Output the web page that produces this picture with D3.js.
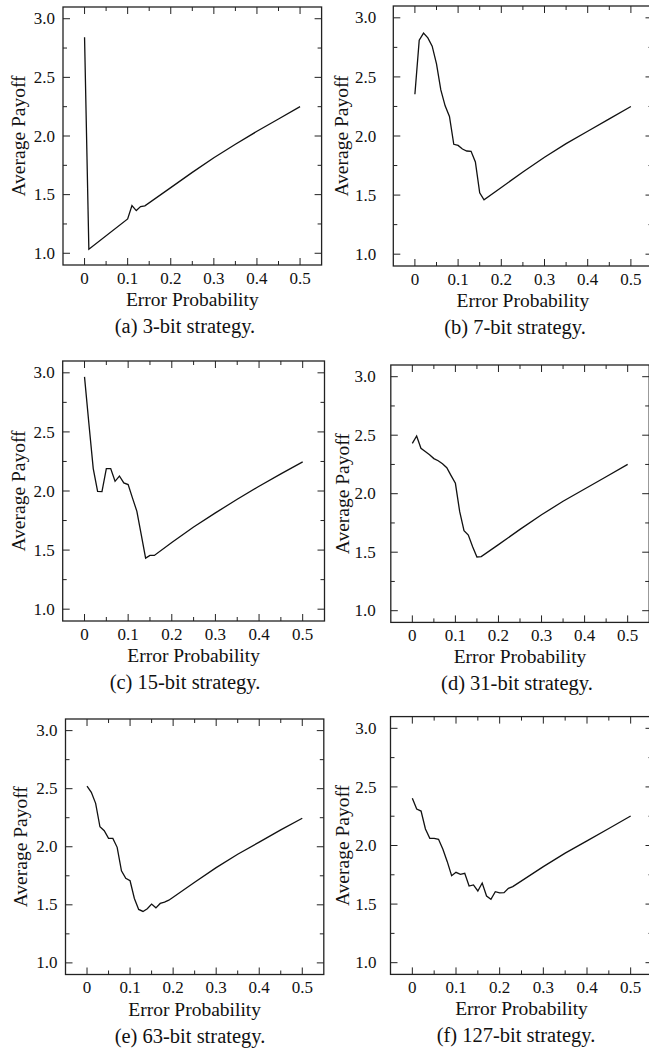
<!DOCTYPE html>
<head>
<meta charset="utf-8">
<script src="https://d3js.org/d3.v7.min.js"></script>
<style>
body { margin: 0; background: #fff; }
</style>
</head>
<body>
<svg id="fig"></svg>
<script>

// values: [error probability, average payoff]
var bit3 = [[0, 2.843], [0.01, 1.034], [0.1, 1.293], [0.11, 1.406], [0.12, 1.364], [0.13, 1.398], [0.14, 1.404],
    [0.2, 1.56], [0.25, 1.69], [0.3, 1.815], [0.35, 1.93], [0.4, 2.04], [0.45, 2.145], [0.5, 2.25]];
var bit7 = [[0, 2.353], [0.01, 2.81], [0.02, 2.87], [0.03, 2.83], [0.04, 2.76], [0.05, 2.61], [0.06, 2.39], [0.07, 2.255],
    [0.08, 2.165], [0.09, 1.93], [0.1, 1.92], [0.11, 1.89], [0.12, 1.873], [0.13, 1.87], [0.14, 1.78], [0.15, 1.52],
    [0.16, 1.46], [0.2, 1.565], [0.25, 1.695], [0.3, 1.82], [0.35, 1.935], [0.4, 2.04], [0.45, 2.145], [0.5, 2.25]];
var bit15 = [[0, 2.966], [0.01, 2.571], [0.02, 2.19], [0.03, 1.997], [0.04, 1.995], [0.05, 2.19], [0.06, 2.19], [0.07, 2.082],
    [0.08, 2.127], [0.09, 2.068], [0.1, 2.054], [0.11, 1.94], [0.12, 1.828], [0.13, 1.63], [0.14, 1.432], [0.15, 1.455],
    [0.16, 1.455], [0.2, 1.565], [0.25, 1.695], [0.3, 1.815], [0.35, 1.93], [0.4, 2.04], [0.45, 2.145], [0.5, 2.246]];
var bit31 = [[0, 2.43], [0.01, 2.493], [0.02, 2.388], [0.03, 2.36], [0.04, 2.333], [0.05, 2.30], [0.06, 2.282], [0.07, 2.256],
    [0.08, 2.222], [0.09, 2.154], [0.1, 2.089], [0.11, 1.846], [0.12, 1.684], [0.13, 1.647], [0.14, 1.547], [0.15, 1.459],
    [0.16, 1.462], [0.2, 1.565], [0.25, 1.695], [0.3, 1.82], [0.35, 1.935], [0.4, 2.04], [0.45, 2.145], [0.5, 2.251]];
var bit63 = [[0, 2.523], [0.01, 2.469], [0.02, 2.374], [0.03, 2.172], [0.04, 2.138], [0.05, 2.072], [0.06, 2.072], [0.07, 1.995],
    [0.08, 1.793], [0.09, 1.728], [0.1, 1.707], [0.11, 1.555], [0.12, 1.46], [0.13, 1.443], [0.14, 1.466], [0.15, 1.506],
    [0.16, 1.474], [0.17, 1.512], [0.18, 1.523], [0.19, 1.54], [0.2, 1.565], [0.25, 1.695], [0.3, 1.82], [0.35, 1.935],
    [0.4, 2.04], [0.45, 2.145], [0.5, 2.245]];
var bit127 = [[0, 2.403], [0.01, 2.311], [0.02, 2.294], [0.03, 2.141], [0.04, 2.061], [0.05, 2.061], [0.06, 2.053], [0.07, 1.968],
    [0.08, 1.862], [0.09, 1.742], [0.1, 1.771], [0.11, 1.754], [0.12, 1.763], [0.13, 1.654], [0.14, 1.663], [0.15, 1.612],
    [0.16, 1.68], [0.17, 1.569], [0.18, 1.541], [0.19, 1.606], [0.2, 1.595], [0.21, 1.597], [0.22, 1.635], [0.23, 1.649],
    [0.3, 1.82], [0.35, 1.935], [0.4, 2.04], [0.45, 2.145], [0.5, 2.252]];

var captions = ["(a) 3-bit strategy.", "(b) 7-bit strategy.", "(c) 15-bit strategy.",
                "(d) 31-bit strategy.", "(e) 63-bit strategy.", "(f) 127-bit strategy."];
var series = [bit3, bit7, bit15, bit31, bit63, bit127];
var xTicks = [0, 0.1, 0.2, 0.3, 0.4, 0.5];
var xMinor = [0.05, 0.15, 0.25, 0.35, 0.45];
var yTicks = [1.0, 1.5, 2.0, 2.5, 3.0];
var yMinor = [1.25, 1.75, 2.25, 2.75];
var xLabel = "Error Probability";
var yLabel = "Average Payoff";

// where each sub-figure sits on the page
var boxes = [
  {l: 63,    r: 321.6, t: 7,     b: 265,   gap: 8,  yl: 25,  cx: 185},
  {l: 393.3, r: 652.5, t: 6,     b: 266,   gap: 17, yl: 348, cx: 515},
  {l: 62.7,  r: 324.5, t: 361,   b: 621,   gap: 8,  yl: 25,  cx: 185},
  {l: 390.8, r: 649.2, t: 365,   b: 622.4, gap: 15, yl: 349, cx: 517},
  {l: 65.5,  r: 323.8, t: 719,   b: 974.5, gap: 8,  yl: 27,  cx: 190},
  {l: 390.5, r: 652.5, t: 716.6, b: 974.4, gap: 14, yl: 349, cx: 516}
];

var font = "'Times New Roman', 'Liberation Serif', serif";
var svg = d3.select("#fig").attr("width", 649).attr("height", 1053)
    .attr("font-family", font);

boxes.forEach(function(bx, i) {
  var x = d3.scaleLinear().domain([-0.05, 0.55]).range([bx.l, bx.r]);
  var y = d3.scaleLinear().domain([0.9, 3.1]).range([bx.b, bx.t]);
  var g = svg.append("g");

  // ticks on all four sides, pointing inward
  var ticks = g.append("g").attr("stroke", "#222").attr("stroke-width", 1);
  xTicks.forEach(function(v) {
    ticks.append("line").attr("x1", x(v)).attr("x2", x(v)).attr("y1", bx.b).attr("y2", bx.b - 7);
    ticks.append("line").attr("x1", x(v)).attr("x2", x(v)).attr("y1", bx.t).attr("y2", bx.t + 7);
  });
  xMinor.forEach(function(v) {
    ticks.append("line").attr("x1", x(v)).attr("x2", x(v)).attr("y1", bx.b).attr("y2", bx.b - 4);
    ticks.append("line").attr("x1", x(v)).attr("x2", x(v)).attr("y1", bx.t).attr("y2", bx.t + 4);
  });
  yTicks.forEach(function(v) {
    ticks.append("line").attr("x1", bx.l).attr("x2", bx.l + 7).attr("y1", y(v)).attr("y2", y(v));
    ticks.append("line").attr("x1", bx.r).attr("x2", bx.r - 7).attr("y1", y(v)).attr("y2", y(v));
  });
  yMinor.forEach(function(v) {
    ticks.append("line").attr("x1", bx.l).attr("x2", bx.l + 4).attr("y1", y(v)).attr("y2", y(v));
    ticks.append("line").attr("x1", bx.r).attr("x2", bx.r - 4).attr("y1", y(v)).attr("y2", y(v));
  });

  g.append("rect")
    .attr("x", bx.l).attr("y", bx.t)
    .attr("width", bx.r - bx.l).attr("height", bx.b - bx.t)
    .attr("fill", "none").attr("stroke", "#222").attr("stroke-width", 1.3);

  g.selectAll(".xt").data(xTicks).join("text")
    .attr("x", d => x(d)).attr("y", bx.b + 18.5)
    .attr("text-anchor", "middle").attr("font-size", 17).attr("fill", "#111")
    .text(d => d === 0 ? "0" : d3.format(".1f")(d));

  g.selectAll(".yt").data(yTicks).join("text")
    .attr("x", bx.l - bx.gap).attr("y", d => y(d)).attr("dy", "0.33em")
    .attr("text-anchor", "end").attr("font-size", 17).attr("fill", "#111")
    .text(d => d3.format(".1f")(d));

  g.append("text")
    .attr("x", (bx.l + bx.r) / 2).attr("y", bx.b + 41)
    .attr("text-anchor", "middle").attr("font-size", 19.5).attr("fill", "#111")
    .text(xLabel);

  g.append("text")
    .attr("transform", "translate(" + bx.yl + "," + ((bx.t + bx.b) / 2) + ") rotate(-90)")
    .attr("text-anchor", "middle").attr("font-size", 19.5).attr("fill", "#111")
    .text(yLabel);

  g.append("text")
    .attr("x", bx.cx).attr("y", bx.b + 68)
    .attr("text-anchor", "middle").attr("font-size", 20.5).attr("fill", "#111")
    .text(captions[i]);

  var line = d3.line().x(d => x(d[0])).y(d => y(d[1]));
  g.append("path")
    .datum(series[i])
    .attr("d", line)
    .attr("fill", "none").attr("stroke", "#111").attr("stroke-width", 1.3);
});

</script>
</body>
